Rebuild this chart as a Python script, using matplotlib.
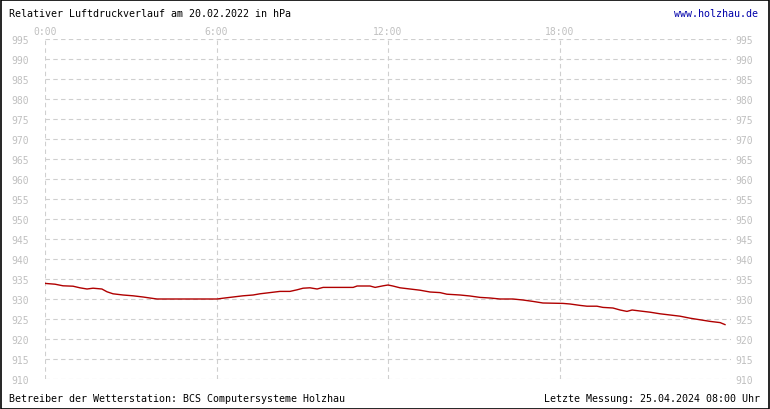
import matplotlib
matplotlib.use("Agg")
import matplotlib.pyplot as plt
from matplotlib.patches import Rectangle

# hours of the day and pressure readings (hPa)
hours = [0.0, 0.35, 0.63, 0.98, 1.22, 1.47, 1.68, 1.99, 2.17, 2.38, 2.73, 3.08,
         3.43, 3.67, 3.92, 6.02, 6.23, 6.58, 6.93, 7.28, 7.52, 7.87, 8.22, 8.57,
         8.82, 9.03, 9.27, 9.52, 9.73, 10.78, 10.92, 11.37, 11.55, 11.83, 12.0,
         12.17, 12.42, 12.77, 13.12, 13.47, 13.82, 14.06, 14.52, 14.87, 15.22,
         15.57, 15.92, 16.37, 16.72, 17.07, 17.42, 18.12, 18.37, 18.72, 18.96,
         19.31, 19.52, 19.87, 20.12, 20.36, 20.54, 20.82, 21.17, 21.52, 21.87,
         22.22, 22.57, 22.92, 23.27, 23.62, 23.79]
pressure = [933.9, 933.7, 933.3, 933.2, 932.8, 932.5, 932.7, 932.5, 931.8, 931.3,
            931.0, 930.8, 930.5, 930.25, 930.0, 930.0, 930.2, 930.5, 930.8, 931.0,
            931.3, 931.6, 931.9, 931.9, 932.3, 932.7, 932.8, 932.5, 932.9, 932.9,
            933.25, 933.25, 932.9, 933.3, 933.5, 933.25, 932.8, 932.5, 932.2,
            931.75, 931.6, 931.2, 931.0, 930.75, 930.4, 930.25, 930.0, 930.0,
            929.75, 929.4, 929.0, 928.9, 928.75, 928.4, 928.2, 928.2, 927.9,
            927.75, 927.25, 926.9, 927.25, 927.0, 926.7, 926.3, 926.0, 925.7,
            925.2, 924.8, 924.4, 924.1, 923.6]

x_ticks = [0, 6, 12, 18]
x_labels = ["0:00", "6:00", "12:00", "18:00"]
y_ticks = list(range(910, 1000, 5))

title = "Relativer Luftdruckverlauf am 20.02.2022 in hPa"
site = "www.holzhau.de"
footer_left = "Betreiber der Wetterstation: BCS Computersysteme Holzhau"
footer_right = "Letzte Messung: 25.04.2024 08:00 Uhr"

W, H = 770, 410
plt.rcParams['font.family'] = 'DejaVu Sans Mono'
fig = plt.figure(figsize=(W / 100, H / 100), dpi=100)
fig.patch.set_facecolor('white')

ax = fig.add_axes([45 / W, 30 / H, 686 / W, 340 / H])
ax.set_xlim(0, 24)
ax.set_ylim(910, 995)
for s in ax.spines.values():
    s.set_visible(False)

grid_col = '#cfcfcf'
lab_col = '#c0c0c0'
ax.grid(True, color=grid_col, linestyle=(0, (4, 3)), linewidth=0.8)
ax.set_xticks(x_ticks)
ax.set_xticklabels(x_labels)
ax.set_yticks(y_ticks)
ax.xaxis.tick_top()
# pads in points (1px = 0.72pt at 100 dpi)
ax.tick_params(axis='x', length=0, pad=2.5, labelsize=7.0, labelcolor=lab_col)
ax.tick_params(axis='y', length=0, pad=11.5, labelsize=7.0, labelcolor=lab_col)

ax2 = ax.twinx()
ax2.set_ylim(910, 995)
ax2.set_yticks(y_ticks)
for s in ax2.spines.values():
    s.set_visible(False)
ax2.tick_params(axis='y', length=0, pad=3, labelsize=7.0, labelcolor=lab_col)

ax.plot(hours, pressure, color='#b00000', linewidth=1.0, zorder=5)

fig.text(9 / W, 1 - 14 / H, title, fontsize=7.2, color='black', va='center', ha='left')
fig.text(758 / W, 1 - 14 / H, site, fontsize=7.2, color='#0000aa', va='center', ha='right')
fig.text(9 / W, 1 - 399 / H, footer_left, fontsize=7.2, color='black', va='center', ha='left')
fig.text(760 / W, 1 - 399 / H, footer_right, fontsize=7.2, color='black', va='center', ha='right')

fig.add_artist(Rectangle((0.5 / W, 0.5 / H), 1 - 1.5 / W, 1 - 1.5 / H,
                         transform=fig.transFigure, fill=False, ec='black', lw=1.2))

fig.savefig("out.png", dpi=100)
